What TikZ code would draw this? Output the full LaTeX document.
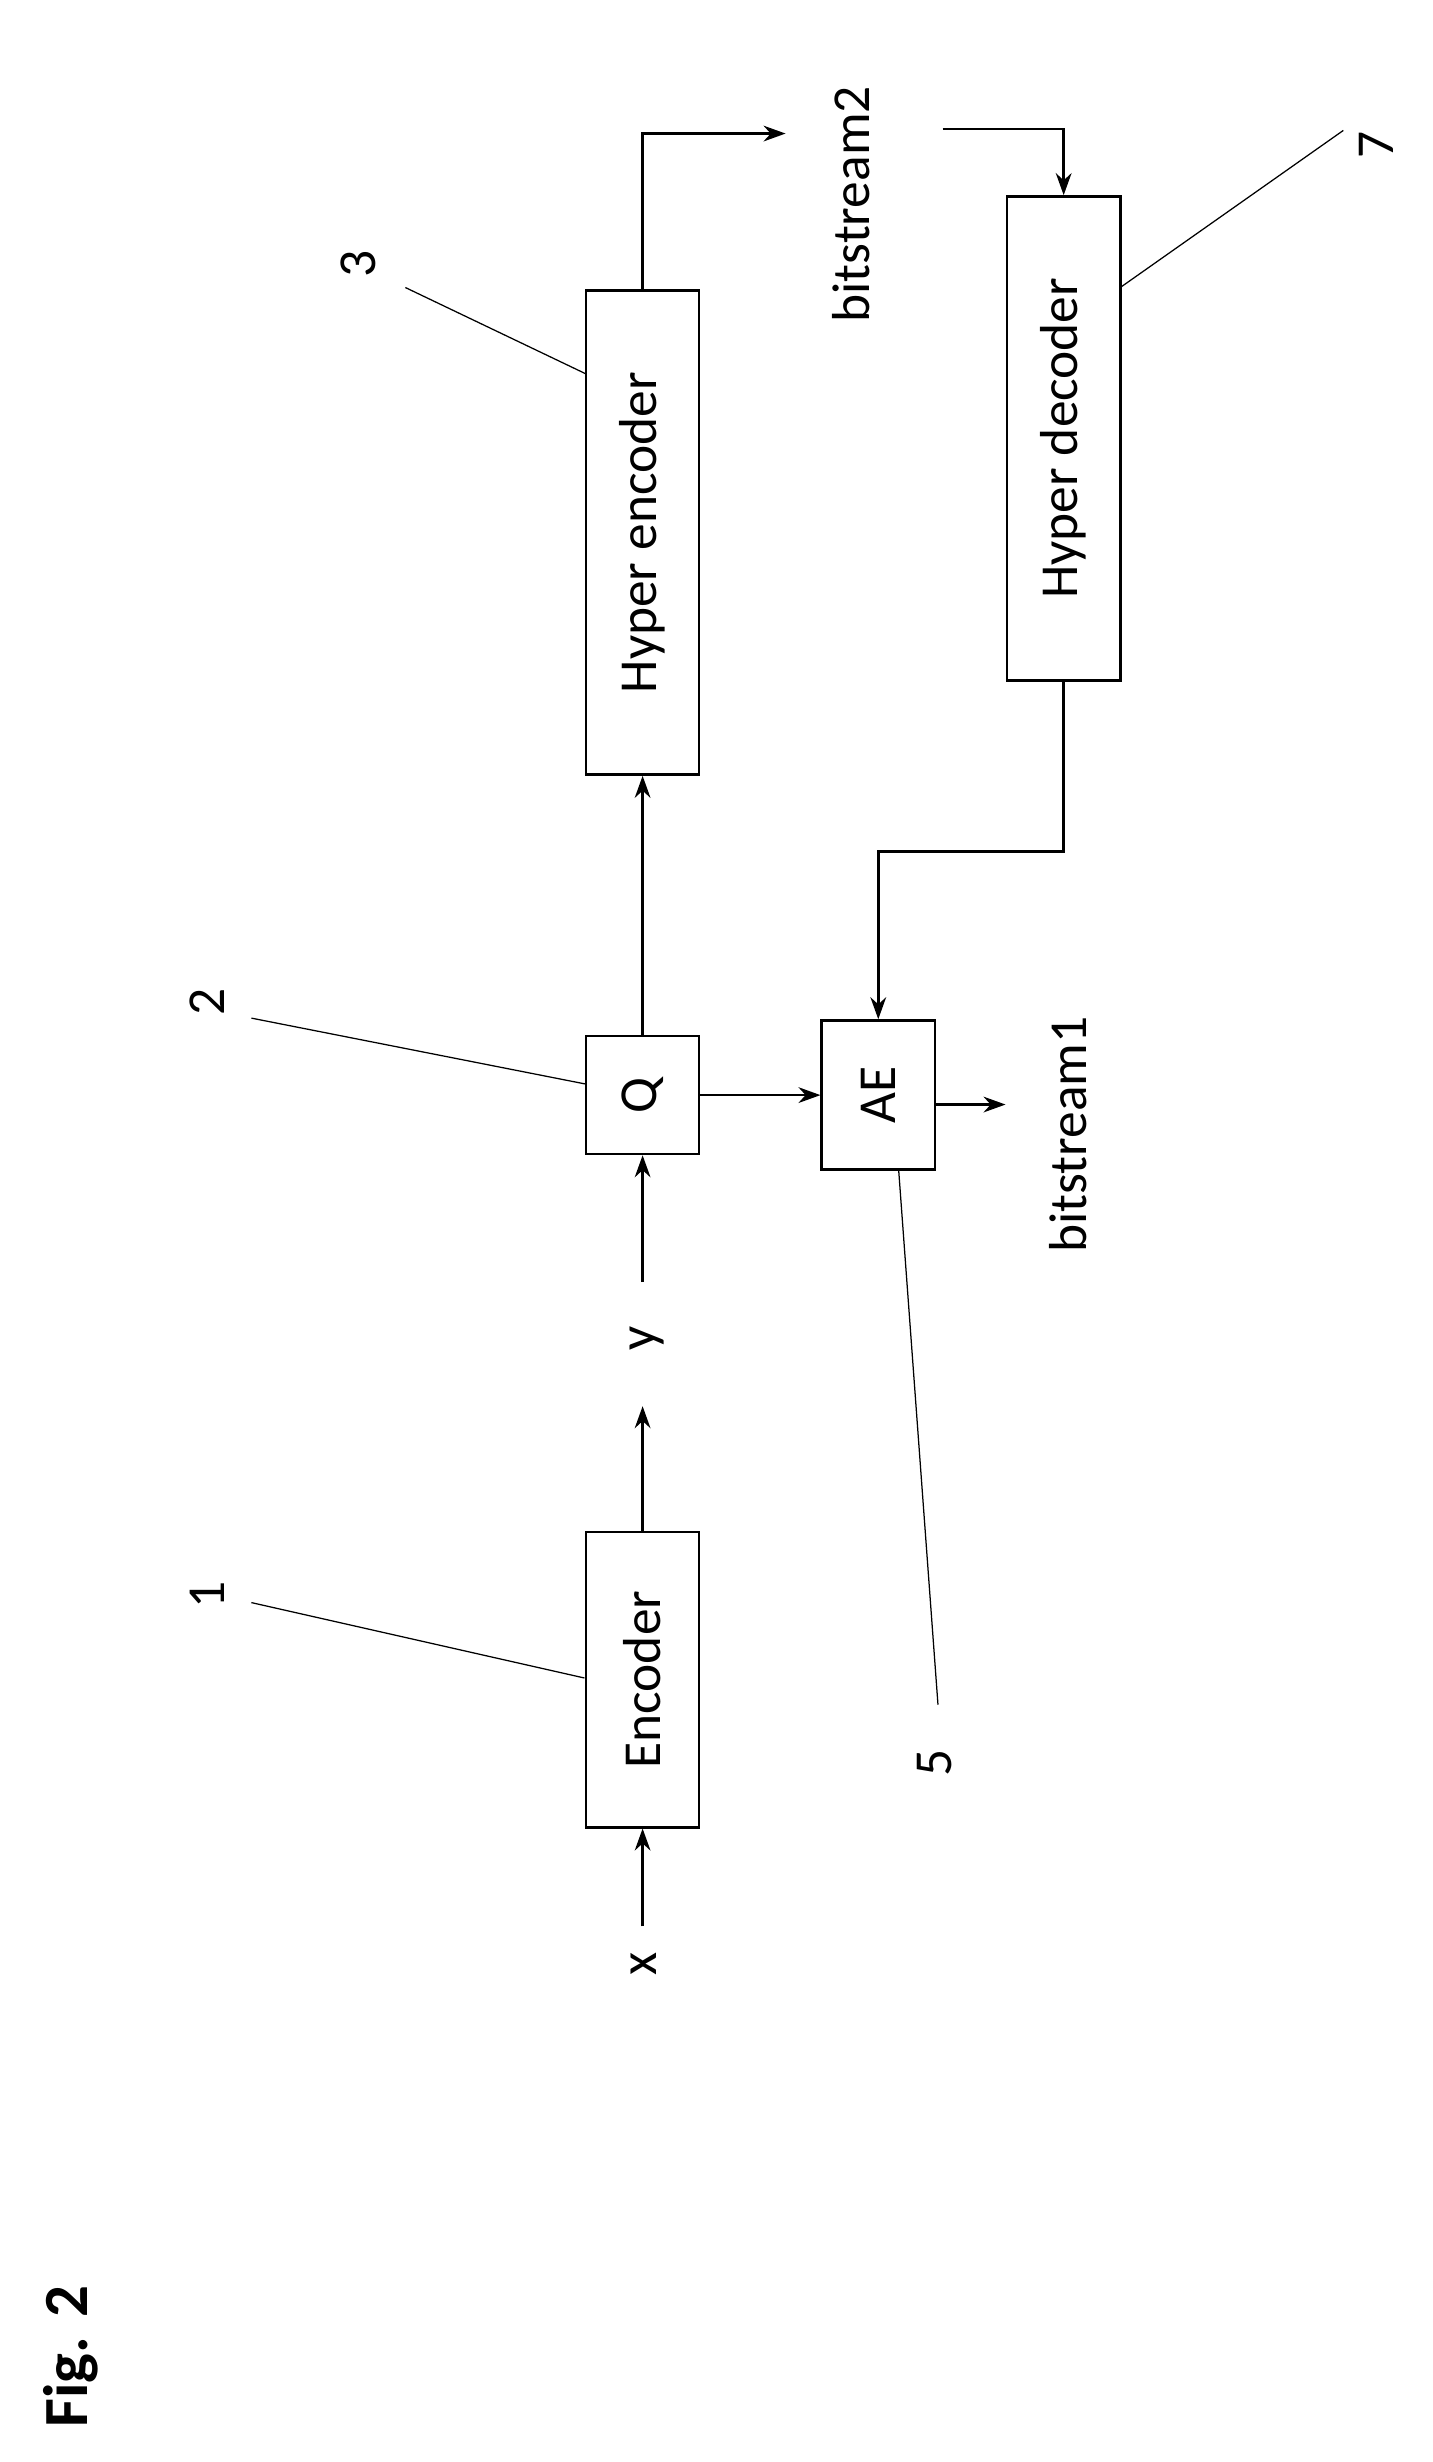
\documentclass[tikz,border=0pt]{standalone}
\usepackage{fontspec}
\setmainfont{Carlito}
\usetikzlibrary{arrows.meta}
\begin{document}
\begin{tikzpicture}[x=1pt,y=-1pt,
  box/.style={draw,line width=1.6pt,inner sep=0pt},
  lbl/.style={rotate=90,font=\fontsize{34}{36}\selectfont,inner sep=0pt},
  con/.style={line width=1.6pt,-{Stealth[length=14pt,width=10pt]}},
  lead/.style={line width=0.8pt}]
\useasboundingbox (0,0) rectangle (912,1567);
\node[box,minimum width=72pt,minimum height=188pt] (enc) at (409,1069) {};
\node[lbl] at (enc) {Encoder};
\node[box,minimum width=72pt,minimum height=75pt] (q) at (409,697) {};
\node[lbl] at (q) {Q};
\node[box,minimum width=72pt,minimum height=308pt] (he) at (409,339) {};
\node[lbl] at (he) {Hyper encoder};
\node[box,minimum width=72pt,minimum height=308pt] (hd) at (677,279) {};
\node[lbl] at (hd) {Hyper decoder};
\node[box,minimum width=72pt,minimum height=95pt] (ae) at (559,697) {};
\node[lbl] at (ae) {AE};
\node[lbl] (x) at (410,1250) {x};
\node[lbl] (y) at (412,852) {y};
\node[lbl] (b2) at (542,130) {bitstream2};
\node[lbl] (b1) at (680,722) {bitstream1};
\node[lbl] (n1) at (132,1015) {1};
\node[lbl] (n2) at (132,638) {2};
\node[lbl] (n3) at (228,168) {3};
\node[lbl] (n5) at (595,1122) {5};
\node[lbl] (n7) at (876,92) {7};
\node[rotate=90,font=\fontsize{40}{42}\selectfont\bfseries,inner sep=0pt] (fig) at (45,1500) {Fig. 2};
\coordinate (xs) at (409,1226);
\coordinate (ys) at (409,816);
\coordinate (ye) at (409,895);
\coordinate (b2e) at (500,85);
\coordinate (b2s) at (600,82);
\coordinate (b1e) at (640,703);
\draw[con] (xs) -- (enc.south);
\draw[con] (enc.north) -- (ye);
\draw[con] (ys) -- (q.south);
\draw[con] (q.north) -- (he.south);
\draw[con] (he.north) |- (b2e);
\draw[con] (b2s) -| (hd.north);
\draw[con] (hd.south) -- (677,542) -| (ae.north);
\draw[con] (q.east) -- (ae.west);
\draw[con] (ae.east |- b1e) -- (b1e);
\draw[lead] (160,1020) -- (372,1068);
\draw[lead] (160,648) -- (373,690);
\draw[lead] (258,183) -- (373,238);
\draw[lead] (572,745) -- (597,1085);
\draw[lead] (855,83) -- (713,183);
\end{tikzpicture}
\end{document}
